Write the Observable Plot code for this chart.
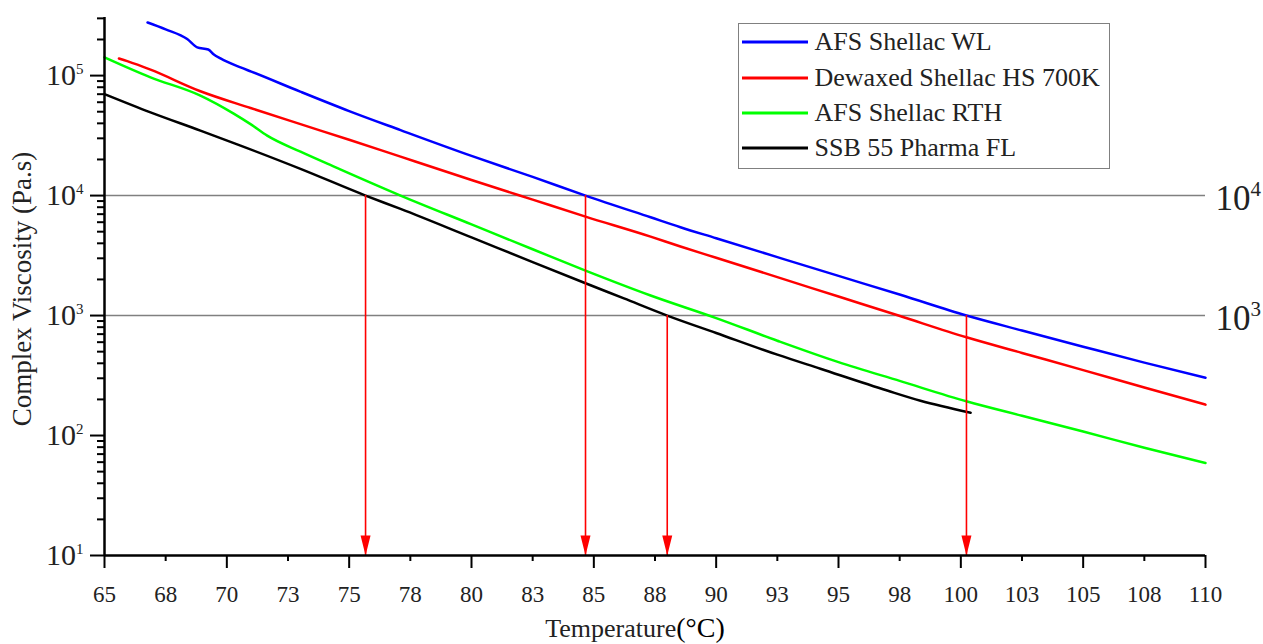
<!DOCTYPE html>
<html><head><meta charset="utf-8">
<script src="https://cdn.jsdelivr.net/npm/d3@7"></script>
<script src="https://cdn.jsdelivr.net/npm/@observablehq/plot@0.6"></script>
<style>
body{margin:0;background:#fff}
#wrap{position:relative;width:1263px;height:644px;font-family:"Liberation Serif",serif}
#legend{position:absolute;left:738px;top:23px;width:372px;height:146px;border:1.5px solid #808080;box-sizing:border-box;background:#fff}
.row{position:absolute;left:0;height:36px;line-height:36px;font-size:26px;color:#222;white-space:nowrap}
.row svg{position:absolute;left:2.5px;top:16px}
.row span{position:absolute;left:75.5px}
svg text{fill:#222}
</style>
</head><body>
<div id="wrap"></div>
<script>
// ---- data ----
const seriesNames = ["AFS Shellac WL", "Dewaxed Shellac HS 700K", "AFS Shellac RTH", "SSB 55 Pharma FL"];
const seriesColors = ["#0000ff", "#ff0000", "#00ff00", "#000000"];

const tempWL = [66.76, 67.5, 68.38, 68.79, 69.24, 69.47, 69.74, 70.56, 71.0, 73.0, 75.0, 77.1, 80.0, 82.5, 84.66, 87.32, 88.54, 90.0, 92.5, 95.0, 97.53, 100.23, 102.5, 105.0, 107.5, 110.0];
const viscWL = [2.77e5, 2.43e5, 2.02e5, 1.72e5, 1.65e5, 1.50e5, 1.39e5, 1.17e5, 1.08e5, 7.35e4, 5.06e4, 3.51e4, 2.14e4, 1.43e4, 1.0e4, 6.59e3, 5.45e3, 4.41e3, 3.07e3, 2.14e3, 1.49e3, 1.0e3, 750, 550, 405, 303];

const tempHS = [65.59, 65.93, 66.88, 68.92, 70.97, 73.01, 75.0, 77.1, 80.0, 82.5, 84.66, 87.32, 88.54, 90.0, 92.5, 95.0, 97.45, 100.23, 102.5, 105.0, 107.5, 110.0];
const viscHS = [1.39e5, 1.32e5, 1.12e5, 7.41e4, 5.37e4, 3.94e4, 2.92e4, 2.11e4, 1.35e4, 9.25e3, 6.68e3, 4.55e3, 3.76e3, 3.03e3, 2.09e3, 1.44e3, 1.0e3, 659, 488, 351, 251, 181];

const tempRTH = [65.0, 66.88, 68.92, 70.28, 71.0, 71.65, 73.01, 74.5, 77.1, 80.0, 82.5, 84.66, 87.32, 90.0, 92.5, 95.0, 97.53, 100.26, 102.5, 105.0, 107.5, 110.0];
const viscRTH = [1.42e5, 9.68e4, 6.81e4, 4.82e4, 3.9e4, 3.16e4, 2.32e4, 1.70e4, 1.0e4, 5.75e3, 3.57e3, 2.37e3, 1.47e3, 953, 617, 409, 284, 192, 146, 108, 79, 59];

const tempFL = [65.0, 66.88, 68.92, 70.56, 73.01, 75.67, 77.1, 80.0, 82.5, 84.66, 86.23, 88.0, 90.0, 92.5, 94.26, 96.99, 98.35, 100.4];
const viscFL = [7.01e4, 4.94e4, 3.48e4, 2.61e4, 1.67e4, 1.0e4, 7.74e3, 4.48e3, 2.79e3, 1.86e3, 1.39e3, 1.0e3, 716, 472, 360, 237, 195, 155];

const arrowTemps = [75.67, 84.66, 88.0, 100.23];
const arrowFrom = [1e4, 1e4, 1e3, 1e3];
const refLevels = [1e4, 1e3];

const xTicks = [65, 67.5, 70, 72.5, 75, 77.5, 80, 82.5, 85, 87.5, 90, 92.5, 95, 97.5, 100, 102.5, 105, 107.5, 110];
const xTickLabels = ["65","68","70","73","75","78","80","83","85","88","90","93","95","98","100","103","105","108","110"];
const yMajor = [10, 100, 1000, 10000, 100000];
const yMajorLabels = ["10^1", "10^2", "10^3", "10^4", "10^5"];
const yMinor = [20,30,40,50,60,70,80,90, 200,300,400,500,600,700,800,900, 2000,3000,4000,5000,6000,7000,8000,9000, 20000,30000,40000,50000,60000,70000,80000,90000, 200000,300000];

const xTitle = "Temperature";
const xUnit = "(°C)";
const yTitle = "Complex Viscosity (Pa.s)";

// ---- build table ----
const seriesT = [tempWL, tempHS, tempRTH, tempFL];
const seriesV = [viscWL, viscHS, viscRTH, viscFL];
const rows = [];
seriesNames.forEach((name, i) => seriesT[i].forEach((t, j) => rows.push({series: name, T: t, V: seriesV[i][j]})));
const arrows = arrowTemps.map((t, i) => ({T: t, from: arrowFrom[i]}));

const xMajor = xTicks.filter((d, i) => i % 2 === 0);
const xMinorT = xTicks.filter((d, i) => i % 2 === 1);
const xFmt = d => xTickLabels[xTicks.indexOf(d)];

const triangle = {draw(ctx) { ctx.moveTo(0, 0); ctx.lineTo(-5, -20); ctx.lineTo(5, -20); ctx.closePath(); }};

const chart = Plot.plot({
  width: 1263, height: 644,
  marginLeft: 104, marginRight: 58, marginTop: 17, marginBottom: 89,
  style: {fontFamily: '"Liberation Serif", serif', color: "#000", background: "#fff", overflow: "visible"},
  x: {domain: [65, 110]},
  y: {type: "log", domain: [10, 3.05e5]},
  color: {domain: seriesNames, range: seriesColors},
  marks: [
    Plot.ruleY(refLevels, {stroke: "#808080", strokeWidth: 1.5}),
    Plot.text(refLevels, {x: () => 110, y: d => d, text: d => "10^" + Math.round(Math.log10(d)), textAnchor: "start", dx: 10, dy: 3, fontSize: 35, ariaLabel: "ref-label"}),
    Plot.line(rows, {x: "T", y: "V", z: "series", stroke: "series", strokeWidth: 2.5, curve: "monotone-x"}),
    Plot.ruleX(arrows, {x: "T", y1: "from", y2: () => 10, stroke: "#ff0000", strokeWidth: 1.6}),
    Plot.dot(arrows, {x: "T", y: () => 10, symbol: triangle, fill: "#ff0000", stroke: null}),
    Plot.ruleX([65], {stroke: "#000", strokeWidth: 2.5}),
    Plot.ruleY([10], {stroke: "#000", strokeWidth: 2.5}),
    Plot.axisY({ticks: yMajor, tickSize: 14, tickPadding: 7, fontSize: 30, tickFormat: d => yMajorLabels[yMajor.indexOf(d)], label: null, strokeWidth: 2}),
    Plot.axisY({ticks: yMinor, tickSize: 7, tickFormat: () => "", label: null, strokeWidth: 2}),
    Plot.axisX({ticks: xMajor, tickSize: 13, tickPadding: 17, fontSize: 23, tickFormat: xFmt, label: null, strokeWidth: 2}),
    Plot.axisX({ticks: xMinorT, tickSize: 6, tickPadding: 24, fontSize: 23, tickFormat: xFmt, label: null, strokeWidth: 2})
  ]
});

const ns = "http://www.w3.org/2000/svg";
function supify(nodes, supSize, shift) {
  nodes.forEach(t => {
    const m = t.textContent.match(/^(\d+)\^(\d+)$/);
    if (!m) return;
    t.textContent = "";
    const a = document.createElementNS(ns, "tspan"); a.textContent = m[1]; t.appendChild(a);
    const b = document.createElementNS(ns, "tspan"); b.textContent = m[2];
    b.setAttribute("font-size", supSize); b.setAttribute("dy", -shift); t.appendChild(b);
  });
}
const allTexts = Array.from(chart.querySelectorAll("text"));
const yTickTexts = Array.from(chart.querySelectorAll('g[aria-label="y-axis tick label"] text'));
supify(yTickTexts, 15, 11);
supify(allTexts.filter(t => !yTickTexts.includes(t)), 21, 14);

const svg = d3.select(chart);
svg.append("text").attr("transform", "translate(31,289) rotate(-90)").attr("text-anchor", "middle")
  .attr("font-size", 27).attr("font-family", '"Liberation Serif", serif').text(yTitle);
const xt = svg.append("text").attr("x", 635).attr("y", 637).attr("text-anchor", "middle")
  .attr("font-size", 26).attr("font-family", '"Liberation Serif", serif');
xt.append("tspan").text(xTitle);
xt.append("tspan").attr("font-size", 28).style("fill", "#000").text(xUnit);

const wrap = document.getElementById("wrap");
wrap.appendChild(chart);

// legend overlay
const legend = document.createElement("div");
legend.id = "legend";
const centers = [18.2, 53.6, 89.0, 124.4];
seriesNames.forEach((name, i) => {
  const row = document.createElement("div");
  row.className = "row";
  row.style.top = (centers[i] - 18) + "px";
  row.innerHTML = `<svg width="66" height="4"><line x1="0" x2="66" y1="2" y2="2" stroke="${seriesColors[i]}" stroke-width="3"/></svg><span>${name}</span>`;
  legend.appendChild(row);
});
wrap.appendChild(legend);
</script>
</body></html>
